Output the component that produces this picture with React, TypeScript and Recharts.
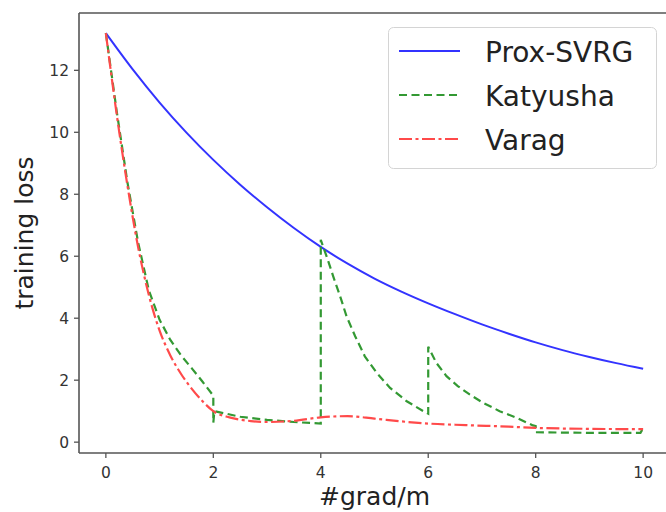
import React from 'react';
import { LineChart, Line, XAxis, YAxis, ReferenceLine, Legend, Label } from 'recharts';

const xTicks = [0, 2, 4, 6, 8, 10];
const yTicks = [0, 2, 4, 6, 8, 10, 12];

const seriesNames = ['Prox-SVRG', 'Katyusha', 'Varag'];

const proxX = [0, 0.5, 1, 1.5, 2, 2.5, 3, 3.5, 4, 4.5, 5, 5.5, 6, 6.5, 7, 7.5, 8, 8.5, 9, 9.5, 10];
const proxY = [13.2, 12.03, 10.96, 9.99, 9.11, 8.31, 7.58, 6.91, 6.3, 5.76, 5.28, 4.86, 4.48, 4.13, 3.8, 3.5, 3.22, 2.97, 2.75, 2.55, 2.37];

const katX = [0, 0.2, 0.4, 0.6, 0.8, 1.0, 1.2, 1.4, 1.6, 1.8, 2.0, 2.0, 2.02, 2.5, 3.0, 3.5, 4.0, 4.0, 4.13, 4.23, 4.36, 4.48, 4.64, 4.82, 5.04, 5.29, 5.6, 5.91, 6.0, 6.0, 6.15, 6.34, 6.55, 6.77, 7.02, 7.33, 7.64, 7.95, 8.0, 8.0, 8.5, 9.0, 9.5, 9.95, 10];
const katY = [13.2, 10.7, 8.4, 6.45, 4.9, 3.95, 3.3, 2.8, 2.38, 1.95, 1.5, 0.63, 1.0, 0.82, 0.72, 0.65, 0.6, 6.53, 5.89, 5.36, 4.71, 4.06, 3.42, 2.77, 2.24, 1.75, 1.32, 1.0, 0.92, 3.08, 2.56, 2.13, 1.81, 1.54, 1.27, 1.0, 0.79, 0.54, 0.52, 0.32, 0.31, 0.3, 0.3, 0.3, 0.45];

const varX = [0, 0.2, 0.4, 0.6, 0.8, 1.0, 1.2, 1.4, 1.6, 1.8, 2.0, 2.3, 2.7, 3.0, 3.5, 4.0, 4.5, 5.0, 5.5, 6.0, 6.7, 7.5, 8.0, 9.0, 10];
const varY = [13.2, 10.6, 8.3, 6.3, 4.75, 3.6, 2.8, 2.2, 1.72, 1.32, 1.0, 0.8, 0.68, 0.65, 0.69, 0.8, 0.84, 0.76, 0.67, 0.6, 0.55, 0.5, 0.46, 0.43, 0.42];

const zip = (xs: number[], ys: number[]) => xs.map((x, i) => ({ x, y: ys[i] }));
const proxData = zip(proxX, proxY);
const katData = zip(katX, katY);
const varData = zip(varX, varY);

const BLUE = '#3333ff';
const GREEN = '#339933';
const RED = '#ff4a4a';
const SPINE = '#555555';
const FONT = 'DejaVu Sans, Verdana, sans-serif';

const legendItems = [
  { name: seriesNames[0], color: BLUE, dash: undefined as string | undefined },
  { name: seriesNames[1], color: GREEN, dash: '8 4.5' },
  { name: seriesNames[2], color: RED, dash: '13 3.5 3 3.5' },
];

const LegendBox = () => (
  <svg width={270} height={143} style={{ display: 'block' }}>
    <rect x={0.5} y={0.5} width={268} height={141} rx={5} ry={5} fill="#ffffff" fillOpacity={0.85} stroke="#d4d4d4" strokeWidth={1} />
    {legendItems.map((it, i) => {
      const cy = 24 + i * 44;
      return (
        <g key={it.name}>
          <line x1={11} x2={72} y1={cy} y2={cy} stroke={it.color} strokeWidth={2.2} strokeDasharray={it.dash} />
          <text x={97} y={cy + 11} fontSize={28} fill="#222" fontFamily={FONT}>{it.name}</text>
        </g>
      );
    })}
  </svg>
);

const YTitle = (props: any) => {
  const vb = props.viewBox || { x: 0, y: 13, width: 79, height: 440 };
  const cx = vb.x + 33;
  const cy = vb.y + vb.height / 2;
  return (
    <text x={cx} y={cy} transform={`rotate(-90 ${cx} ${cy})`} textAnchor="middle" fontSize={25} fill="#222" fontFamily={FONT}>
      training loss
    </text>
  );
};

const XTitle = (props: any) => {
  const vb = props.viewBox || { x: 79, y: 453, width: 591, height: 59 };
  const cx = vb.x + vb.width / 2;
  return (
    <text x={cx} y={vb.y + 52} textAnchor="middle" fontSize={25} fill="#222" fontFamily={FONT}>
      #grad/m
    </text>
  );
};

export default function App() {
  const tickStyle = { fill: '#333', fontSize: 15.5, fontFamily: FONT };
  return (
    <div style={{ position: 'fixed', left: 0, top: 0, width: 666, height: 512, overflow: 'hidden', background: '#fff' }}>
      <LineChart width={680} height={512} margin={{ top: 13, right: 10, left: 0, bottom: 0 }}>
        <XAxis
          type="number"
          dataKey="x"
          domain={[-0.5, 10.5]}
          ticks={xTicks}
          allowDataOverflow
          height={59}
          tick={tickStyle}
          tickSize={5}
          tickMargin={9}
          axisLine={{ stroke: SPINE, strokeWidth: 1.6 }}
          tickLine={{ stroke: SPINE, strokeWidth: 1.3 }}
        >
          <Label content={XTitle} />
        </XAxis>
        <YAxis
          type="number"
          dataKey="y"
          domain={[-0.35, 13.85]}
          ticks={yTicks}
          allowDataOverflow
          width={79}
          tick={tickStyle}
          tickSize={5}
          tickMargin={5}
          axisLine={{ stroke: SPINE, strokeWidth: 1.6 }}
          tickLine={{ stroke: SPINE, strokeWidth: 1.3 }}
        >
          <Label content={YTitle} />
        </YAxis>
        <ReferenceLine y={13.85} stroke={SPINE} strokeWidth={1.6} />
        <Line data={proxData} dataKey="y" name={seriesNames[0]} type="monotone" stroke={BLUE} strokeWidth={2} dot={false} activeDot={false} isAnimationActive={false} />
        <Line data={katData} dataKey="y" name={seriesNames[1]} type="linear" stroke={GREEN} strokeWidth={2.2} strokeDasharray="8 4.5" dot={false} activeDot={false} isAnimationActive={false} />
        <Line data={varData} dataKey="y" name={seriesNames[2]} type="monotone" stroke={RED} strokeWidth={2.2} strokeDasharray="13 3.5 3 3.5" dot={false} activeDot={false} isAnimationActive={false} />
        <Legend
          layout="vertical"
          align="center"
          verticalAlign="middle"
          content={() => <LegendBox />}
          wrapperStyle={{ position: 'absolute', left: 388, top: 27, width: 270, height: 143 }}
        />
      </LineChart>
    </div>
  );
}
